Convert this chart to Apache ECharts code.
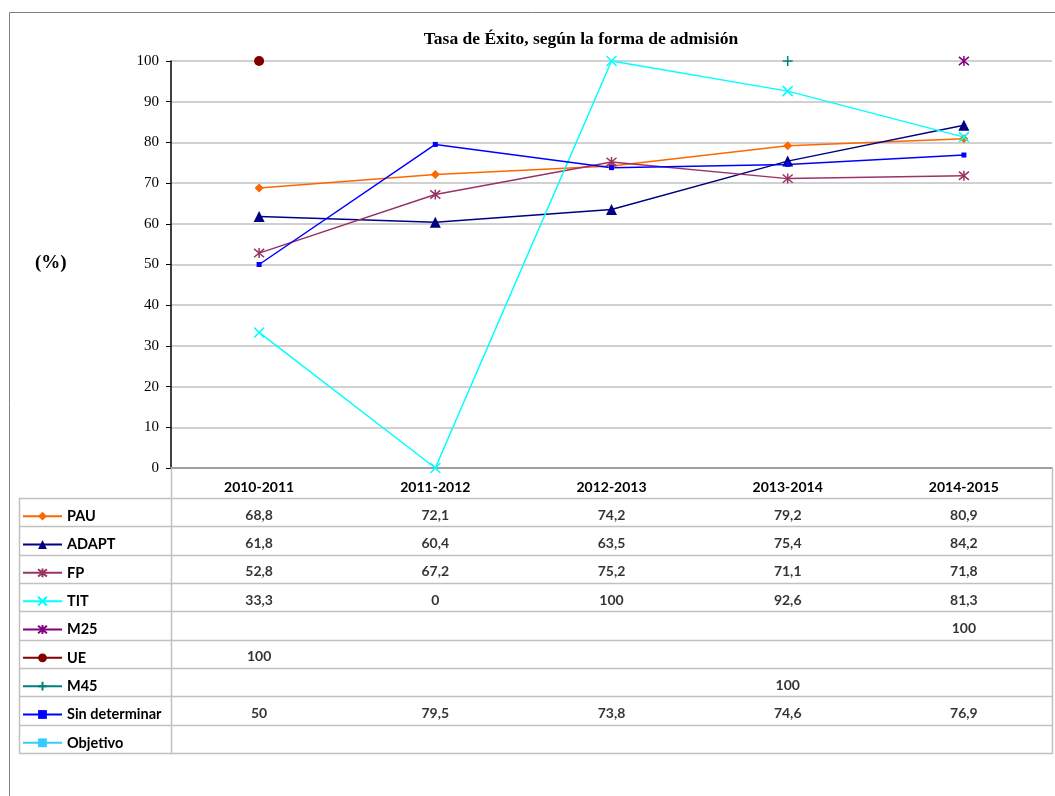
<!DOCTYPE html>
<html>
<head>
<meta charset="utf-8">
<script src="https://cdn.jsdelivr.net/npm/echarts@6/dist/echarts.min.js"></script>
<style>
html,body{margin:0;padding:0;background:#fff;}
#chart{width:1055px;height:796px;}
</style>
</head>
<body>
<div id="chart"></div>
<script>
// ---- Data ----
const categories = ['2010-2011', '2011-2012', '2012-2013', '2013-2014', '2014-2015'];
const seriesNames = ['PAU', 'ADAPT', 'FP', 'TIT', 'M25', 'UE', 'M45', 'Sin determinar', 'Objetivo'];
const PAU = [68.8, 72.1, 74.2, 79.2, 80.9];
const ADAPT = [61.8, 60.4, 63.5, 75.4, 84.2];
const FP = [52.8, 67.2, 75.2, 71.1, 71.8];
const TIT = [33.3, 0, 100, 92.6, 81.3];
const M25 = [null, null, null, null, 100];
const UE = [100, null, null, null, null];
const M45 = [null, null, null, 100, null];
const SIN = [50, 79.5, 73.8, 74.6, 76.9];
const OBJ = [null, null, null, null, null];
const yTicks = [0, 10, 20, 30, 40, 50, 60, 70, 80, 90, 100];

const seriesValues = [PAU, ADAPT, FP, TIT, M25, UE, M45, SIN, OBJ];

// ---- Styles ----
const colors = ['#FF6600', '#000080', '#993366', '#00FFFF', '#800080', '#800000', '#008080', '#0000FF', '#33CCFF'];
const SYM_X = 'path://M0,0 L10,10 M10,0 L0,10';
const SYM_AST = 'path://M0,0 L10,10 M10,0 L0,10 M5,-1 L5,11';
const SYM_PLUS = 'path://M5,0 L5,10 M0,5 L10,5';
const symbols = ['diamond', 'triangle', SYM_AST, SYM_X, SYM_AST, 'circle', SYM_PLUS, 'rect', 'rect'];
const symbolSizes = [9, 11, 10, 10, 10, 10, 10, 5, 7];
const stroked = [false, false, true, true, true, false, true, false, false];

const plotLeft = 171, plotRight = 1052, plotTop = 61, plotBottom = 468;
const tableLeft = 19, tableTop = 498, tableBottom = 753;
const nRows = seriesNames.length;
const rowH = (tableBottom - tableTop) / nRows;
const gridColor = '#c0c0c0';
const tableFont = 'Lato';
const legendItemH = 11;

const series = seriesNames.map((name, i) => ({
  name: name,
  type: 'line',
  xAxisIndex: 0,
  yAxisIndex: 0,
  data: seriesValues[i],
  symbol: symbols[i],
  symbolSize: symbolSizes[i],
  showSymbol: true,
  connectNulls: false,
  animation: false,
  lineStyle: { color: colors[i], width: 1.5 },
  itemStyle: stroked[i]
    ? { color: colors[i], borderColor: colors[i], borderWidth: 1.5 }
    : { color: colors[i], borderWidth: 0 },
  emphasis: { disabled: true }
}));

// table values via second grid
const cellData = [];
seriesValues.forEach((arr, r) => {
  arr.forEach((v, c) => {
    if (v !== null && v !== undefined) cellData.push([c, r, v]);
  });
});
series.push({
  name: '__table',
  type: 'scatter',
  xAxisIndex: 1,
  yAxisIndex: 1,
  data: cellData,
  symbolSize: 0,
  animation: false,
  silent: true,
  label: {
    show: true,
    position: 'inside',
    offset: [0, 3],
    formatter: p => String(p.value[2]).replace('.', ','),
    color: '#000',
    fontFamily: tableFont,
    fontWeight: 'bold',
    fontSize: 14
  }
});

// one legend per table row
const legends = seriesNames.map((name, i) => ({
  orient: 'vertical',
  left: 17,
  top: tableTop + rowH * (i + 0.5) + 5 - 5 - 8.5,
  itemWidth: 39,
  itemHeight: legendItemH,
  selectedMode: false,
  data: [name],
  textStyle: { fontFamily: tableFont, fontWeight: 'bold', fontSize: 14.5, color: '#000' }
}));

// graphics: border, table lines, (%) label
const graphics = [];
graphics.push({ type: 'rect', shape: { x: 9.5, y: 12.5, width: 1100, height: 900 }, style: { fill: null, stroke: '#808080', lineWidth: 1 }, silent: true });
for (let k = 0; k <= nRows; k++) {
  const y = Math.round(tableTop + k * rowH) + 0.5;
  graphics.push({ type: 'line', shape: { x1: tableLeft, y1: y, x2: plotRight, y2: y }, style: { stroke: gridColor, lineWidth: 1.5 }, silent: true, z: 5 });
}
graphics.push({ type: 'line', shape: { x1: tableLeft + 0.5, y1: tableTop, x2: tableLeft + 0.5, y2: tableBottom + 1 }, style: { stroke: gridColor, lineWidth: 1.5 }, silent: true, z: 5 });
graphics.push({ type: 'line', shape: { x1: plotLeft + 0.5, y1: plotBottom, x2: plotLeft + 0.5, y2: tableBottom + 1 }, style: { stroke: gridColor, lineWidth: 1.5 }, silent: true, z: 5 });
graphics.push({ type: 'line', shape: { x1: plotRight + 0.5, y1: plotBottom, x2: plotRight + 0.5, y2: tableBottom + 1 }, style: { stroke: gridColor, lineWidth: 1.5 }, silent: true, z: 5 });
graphics.push({ type: 'text', left: 35, top: 254, style: { text: '(%)', font: 'bold 19px "Liberation Serif"', fill: '#000' }, silent: true });

const chart = echarts.init(document.getElementById('chart'), null, { renderer: 'canvas' });
chart.setOption({
  animation: false,
  backgroundColor: '#fff',
  title: {
    text: 'Tasa de Éxito, según la forma de admisión',
    left: 576,
    top: 25,
    textAlign: 'center',
    textStyle: { fontFamily: 'Liberation Serif', fontWeight: 'bold', fontSize: 17.5, color: '#000' }
  },
  legend: legends,
  grid: [
    { left: plotLeft, top: plotTop, width: plotRight - plotLeft, height: plotBottom - plotTop, containLabel: false },
    { left: plotLeft, top: tableTop, width: plotRight - plotLeft, height: tableBottom - tableTop, containLabel: false }
  ],
  xAxis: [
    {
      type: 'category', gridIndex: 0, data: categories, boundaryGap: true,
      axisLine: { show: true, lineStyle: { color: '#a0a0a0', width: 2 } },
      axisTick: { show: false },
      axisLabel: { margin: 12, color: '#000', fontFamily: tableFont, fontWeight: 'bold', fontSize: 14 },
      splitLine: { show: false }
    },
    {
      type: 'category', gridIndex: 1, data: categories, boundaryGap: true, show: false
    }
  ],
  yAxis: [
    {
      type: 'value', gridIndex: 0, min: yTicks[0], max: yTicks[yTicks.length - 1], interval: 10,
      axisLine: { show: true, lineStyle: { color: '#000', width: 1.5 } },
      axisTick: { show: true, length: 5, lineStyle: { color: '#000' } },
      axisLabel: { margin: 12, color: '#000', fontFamily: 'Liberation Serif', fontSize: 15 },
      splitLine: { show: true, lineStyle: { color: gridColor, width: 1.5 } }
    },
    {
      type: 'category', gridIndex: 1, data: seriesNames, inverse: true, boundaryGap: true, show: false
    }
  ],
  series: series,
  graphic: graphics
});
</script>
</body>
</html>
